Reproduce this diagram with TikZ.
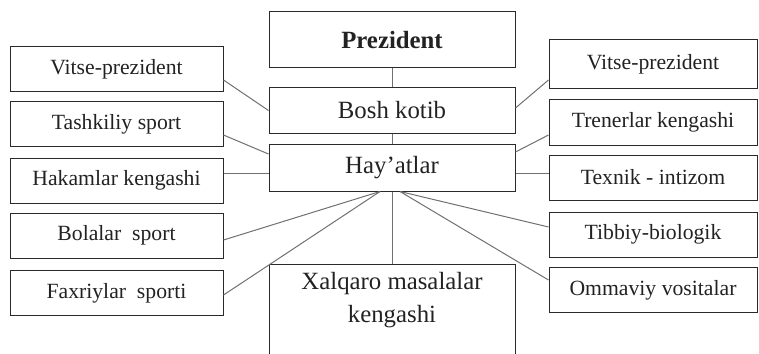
\documentclass[tikz,border=0pt]{standalone}
\usepackage{fontspec}
\setmainfont{Liberation Serif}

\definecolor{boxline}{HTML}{2A2A2A}
\definecolor{linkline}{HTML}{707070}
\definecolor{inktext}{HTML}{222222}

\begin{document}
\begin{tikzpicture}[x=0.5pt, y=-0.5pt,
  orgbox/.style={draw=boxline, line width=0.5pt, inner sep=0pt,
    minimum height=22.5pt, text=inktext},
  sidebox/.style={orgbox, minimum width=106.5pt,
    font=\fontsize{10.85}{13}\selectfont},
  rsidebox/.style={sidebox, minimum width=104pt},
  midbox/.style={orgbox, minimum width=123pt,
    font=\fontsize{12.4}{16.5}\selectfont},
  link/.style={draw=linkline, line width=0.5pt}]

  \useasboundingbox (0,0) rectangle (759,353);
  \clip (0,0) rectangle (759,353);

  % --------------------------------------------------------------------------
  % Centre column
  % --------------------------------------------------------------------------
  \node[midbox, minimum height=28pt, font=\fontsize{12.4}{15}\selectfont\bfseries]
    (prez) at (392,40) {Prezident};
  \node[midbox] (bosh) at (392,110.5) {Bosh kotib};
  \node[midbox, minimum height=23.5pt] (hay) at (392,167.5) {Hay'atlar};

  % box runs off the bottom edge of the page
  \node[orgbox, minimum width=123pt, minimum height=50pt, anchor=north]
    (xq) at (392,264) {};
  \node[font=\fontsize{12.4}{16.5}\selectfont, align=center, text=inktext]
    (xqtext) at (392,300.5) {Xalqaro masalalar\\kengashi};

  % --------------------------------------------------------------------------
  % Left column
  % --------------------------------------------------------------------------
  \node[sidebox] (lv1) at (116.5,69)    {Vitse-prezident};
  \node[sidebox] (lv2) at (116.5,124)   {Tashkiliy sport};
  \node[sidebox] (lv3) at (116.5,180.5) {Hakamlar kengashi};
  \node[sidebox] (lv4) at (116.5,235.5) {Bolalar\ \ sport};
  \node[sidebox] (lv5) at (116.5,293)   {Faxriylar\ \ sporti};

  % --------------------------------------------------------------------------
  % Right column
  % --------------------------------------------------------------------------
  \node[rsidebox, minimum height=24.5pt] (rv1) at (653,64.5) {Vitse-prezident};
  \node[rsidebox] (rv2) at (653,122.5) {Trenerlar kengashi};
  \node[rsidebox] (rv3) at (653,177.5) {Texnik - intizom};
  \node[rsidebox] (rv4) at (653,234.5) {Tibbiy-biologik};
  \node[rsidebox] (rv5) at (653,290)   {Ommaviy vositalar};

  % --------------------------------------------------------------------------
  % Links
  % --------------------------------------------------------------------------
  \draw[link] (prez.south) -- (bosh.north);
  \draw[link] (bosh.south) -- (hay.north);
  \draw[link] (hay.south) -- (xq.north);

  \draw[link] ([yshift=-5.5pt]lv1.east) -- (bosh.west);
  \draw[link] ([yshift=-5.5pt]lv2.east) -- ([yshift=6.75pt]hay.west);
  \draw[link] ([yshift=3.75pt]lv3.east) -- ([yshift=-2.75pt]hay.west);
  \draw[link] ([yshift=-2.25pt]lv4.east) -- ([xshift=-6pt]hay.south);
  \draw[link] ([yshift=-1pt]lv5.east) -- ([xshift=-6pt]hay.south);

  \draw[link] ([yshift=1.25pt]bosh.east) -- ([yshift=-7.75pt]rv1.west);
  \draw[link] ([yshift=7.75pt]hay.east) -- ([yshift=-6.25pt]rv2.west);
  \draw[link] ([yshift=-2.75pt]hay.east) -- ([yshift=2.25pt]rv3.west);
  \draw[link] ([xshift=4pt]hay.south) -- ([yshift=3.75pt]rv4.west);
  \draw[link] ([xshift=4pt]hay.south) -- ([yshift=5pt]rv5.west);

\end{tikzpicture}
\end{document}
